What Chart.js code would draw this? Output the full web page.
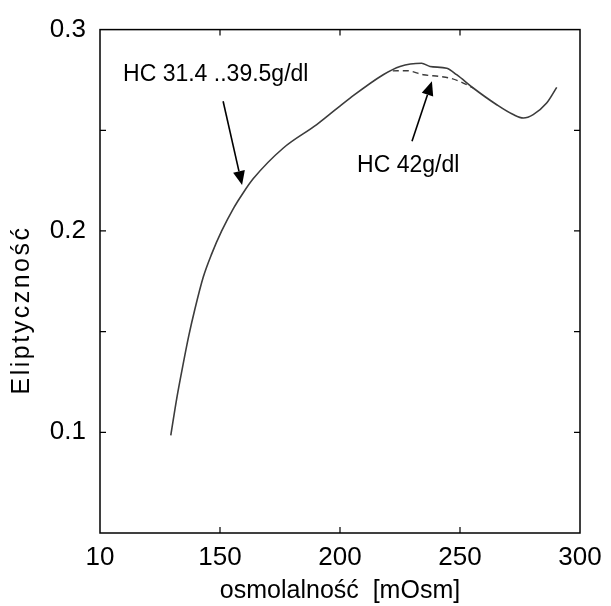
<!DOCTYPE html>
<html>
<head>
<meta charset="utf-8">
<style>
  html, body { margin: 0; padding: 0; background: #fff; }
  #wrap { width: 611px; height: 606px; position: relative; }
</style>
<script src="https://cdn.jsdelivr.net/npm/chart.js@4.4.1/dist/chart.umd.min.js"></script>
</head>
<body>
<div id="wrap"><canvas id="elipChart"></canvas></div>
<script>
// values
const osmX = [129.5, 132, 134.5, 137, 139.5, 143, 146.5, 150.7, 155.5, 159.7, 163.9, 176.4, 190.3, 204.2, 218, 225, 234, 237.5, 244.5, 248.6, 255.5, 265.3, 272.2, 276.4, 280.5, 286.1, 290.3];
const elipY = [0.0985, 0.1170, 0.1330, 0.1480, 0.1610, 0.1770, 0.1885, 0.2000, 0.2110, 0.2190, 0.2260, 0.2412, 0.2528, 0.266, 0.2776, 0.2817, 0.2833, 0.2817, 0.2808, 0.2776, 0.271, 0.2627, 0.2578, 0.2561, 0.2578, 0.2635, 0.2713];

// HC 42 g/dl branch (dashed, only where it leaves the main curve)
const osmX42 = [222, 227.8, 234.7, 241.7, 245.8, 250, 255.5];
const elipY42 = [0.2795, 0.2796, 0.2776, 0.2767, 0.2759, 0.2742, 0.271];

const xTicks = [100, 150, 200, 250, 300];
const xTickLabels = ['10', '150', '200', '250', '300'];
const yTicks = [0.1, 0.2, 0.3];
const yTickLabels = ['0.1', '0.2', '0.3'];
const yMinorTicks = [0.1, 0.15, 0.2, 0.25];
const xMinorTicks = [150, 200, 250];

const xTitle = 'osmolalność  [mOsm]';
const yTitle = 'Eliptyczność';

// annotations in data units
const notes = [
    { text: 'HC 31.4 ..39.5g/dl', x: 109.6, y: 0.2777, tail: [151.3, 0.2644], tip: [159.2, 0.2228] },
    { text: 'HC 42g/dl', x: 207.1, y: 0.2322, tail: [230, 0.2446], tip: [238.3, 0.2743] }
];

const FONT = '"Liberation Sans", Arial, sans-serif';

function toPoints(xs, ys) {
    return xs.map(function(x, i) { return { x: x, y: ys[i] }; });
}

const framePlugin = {
    id: 'frame',
    afterDraw: function(chart) {
        const ctx = chart.ctx;
        const a = chart.chartArea;
        const xs = chart.scales.x;
        const ys = chart.scales.y;
        ctx.save();
        ctx.strokeStyle = '#000';
        ctx.lineWidth = 1.5;
        ctx.strokeRect(a.left, a.top, a.right - a.left, a.bottom - a.top);

        // inward ticks
        ctx.lineWidth = 1.2;
        ctx.beginPath();
        xMinorTicks.forEach(function(v) {
            const px = xs.getPixelForValue(v);
            ctx.moveTo(px, a.bottom); ctx.lineTo(px, a.bottom - 6);
            ctx.moveTo(px, a.top); ctx.lineTo(px, a.top + 6);
        });
        yMinorTicks.forEach(function(v) {
            const py = ys.getPixelForValue(v);
            ctx.moveTo(a.left, py); ctx.lineTo(a.left + 6, py);
            ctx.moveTo(a.right, py); ctx.lineTo(a.right - 6, py);
        });
        ctx.stroke();

        // notes + arrows
        ctx.fillStyle = '#000';
        ctx.font = '23px ' + FONT;
        ctx.textBaseline = 'middle';
        ctx.textAlign = 'left';
        notes.forEach(function(n) {
            ctx.fillText(n.text, xs.getPixelForValue(n.x), ys.getPixelForValue(n.y));
            const x0 = xs.getPixelForValue(n.tail[0]), y0 = ys.getPixelForValue(n.tail[1]);
            const x1 = xs.getPixelForValue(n.tip[0]), y1 = ys.getPixelForValue(n.tip[1]);
            const ang = Math.atan2(y1 - y0, x1 - x0);
            const len = 14, half = 6;
            const bx = x1 - len * Math.cos(ang), by = y1 - len * Math.sin(ang);
            ctx.lineWidth = 1.6;
            ctx.beginPath();
            ctx.moveTo(x0, y0); ctx.lineTo(bx, by);
            ctx.stroke();
            ctx.beginPath();
            ctx.moveTo(x1, y1);
            ctx.lineTo(bx + half * Math.sin(ang), by - half * Math.cos(ang));
            ctx.lineTo(bx - half * Math.sin(ang), by + half * Math.cos(ang));
            ctx.closePath();
            ctx.fill();
        });

        // y title, drawn here so it can be spaced like the original
        ctx.font = '25px ' + FONT;
        ctx.letterSpacing = '2.5px';
        ctx.textAlign = 'center';
        ctx.translate(22, 310);
        ctx.rotate(-Math.PI / 2);
        ctx.fillText(yTitle, 0, 0);
        ctx.restore();
    }
};

const ctx = document.getElementById('elipChart').getContext('2d');

const config = {
    type: 'line',
    data: {
        datasets: [{
            label: 'HC 31.4 ..39.5g/dl',
            data: toPoints(osmX, elipY),
            borderColor: '#3c3c3c',
            borderWidth: 1.6,
            pointRadius: 0,
            cubicInterpolationMode: 'monotone',
            fill: false
        }, {
            label: 'HC 42g/dl',
            data: toPoints(osmX42, elipY42),
            borderColor: '#3c3c3c',
            borderWidth: 1.4,
            borderDash: [6, 4],
            pointRadius: 0,
            cubicInterpolationMode: 'monotone',
            fill: false
        }]
    },
    options: {
        responsive: true,
        maintainAspectRatio: false,
        animation: false,
        layout: { padding: { top: 28, right: 31, left: 0, bottom: 0 } },
        plugins: {
            legend: { display: false },
            tooltip: { enabled: false }
        },
        scales: {
            x: {
                type: 'linear',
                min: 100,
                max: 300,
                grid: { display: false, drawTicks: false },
                border: { display: false },
                afterBuildTicks: function(scale) {
                    scale.ticks = xTicks.map(function(v) { return { value: v }; });
                },
                afterFit: function(scale) { scale.height = 73; },
                ticks: {
                    autoSkip: false,
                    maxRotation: 0,
                    padding: 9,
                    color: '#000',
                    font: { family: FONT, size: 26 },
                    callback: function(value) {
                        const i = xTicks.indexOf(value);
                        return i >= 0 ? xTickLabels[i] : '';
                    }
                },
                title: {
                    display: true,
                    text: xTitle,
                    color: '#000',
                    padding: { top: 0, bottom: 0 },
                    font: { family: FONT, size: 25 }
                }
            },
            y: {
                type: 'linear',
                min: 0.05,
                max: 0.3,
                grid: { display: false, drawTicks: false },
                border: { display: false },
                afterBuildTicks: function(scale) {
                    scale.ticks = yTicks.map(function(v) { return { value: v }; });
                },
                afterFit: function(scale) { scale.width = 100; },
                ticks: {
                    autoSkip: false,
                    padding: 14,
                    color: '#000',
                    font: { family: FONT, size: 26 },
                    callback: function(value) {
                        const i = yTicks.findIndex(function(t) { return Math.abs(t - value) < 1e-9; });
                        return i >= 0 ? yTickLabels[i] : '';
                    }
                }
            }
        }
    },
    plugins: [framePlugin]
};

try {
    new Chart(ctx, config);
} catch (error) {
    console.error('Error creating chart:', error);
}
</script>
</body>
</html>
